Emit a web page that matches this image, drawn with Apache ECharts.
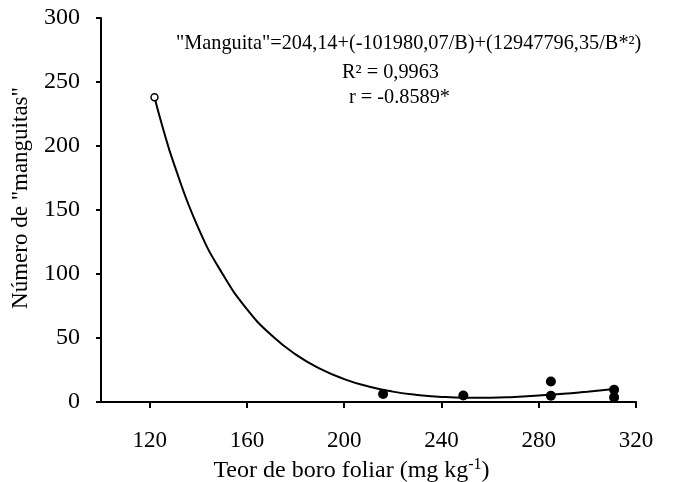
<!DOCTYPE html>
<html>
<head>
<meta charset="utf-8">
<script src="https://cdn.jsdelivr.net/npm/echarts@6/dist/echarts.min.js"></script>
<style>
  html, body { margin: 0; padding: 0; background: #fff; }
  #chart { width: 676px; height: 482px; }
</style>
</head>
<body>
<div id="chart"></div>
<script>
// pontos observados (teor de boro, nº de manguitas)
var pontosCheios = [[216, 6.3], [249, 5.1], [285, 16], [285, 4.9], [311, 9.6], [311, 3.6]];
var pontoAberto = [[122, 238]];

// curva ajustada, valores
var curvaX = [122, 125, 130, 140, 150, 160, 170, 180, 190, 200, 210, 220, 230, 240, 250, 260, 270, 280, 290, 300, 311];
var curvaY = [238, 217, 186, 136, 100, 72.5, 52.3, 37.2, 26.1, 17.9, 12.1, 8.1, 5.5, 4.0, 3.4, 3.4, 4.0, 5.1, 6.4, 8.1, 10.1];

var xTicks = [120, 160, 200, 240, 280, 320];

var equacao = '"Manguita"=204,14+(-101980,07/B)+(12947796,35/B*²)';
var r2Texto = 'R² = 0,9963';
var rTexto = 'r = -0.8589*';

var fonte = 'Liberation Serif';

var curva = curvaX.map(function (x, i) { return [x, curvaY[i]]; });

var chart = echarts.init(document.getElementById('chart'));
var option = {
  animation: false,
  textStyle: { fontFamily: fonte, color: '#000' },
  grid: { left: 101, right: 40, top: 18, bottom: 80, outerBoundsMode: 'none', containLabel: false },
  xAxis: {
    type: 'value',
    min: 100,
    max: 320,
    name: 'Teor de boro foliar (mg kg{sup|-1})',
    nameLocation: 'middle',
    nameGap: 51,
    nameTextStyle: {
      fontFamily: fonte, fontSize: 24, color: '#000',
      padding: [0, 34, 0, 0],
      rich: { sup: { fontFamily: fonte, fontSize: 16, verticalAlign: 'top', padding: [0, 0, 12, 0] } }
    },
    splitLine: { show: false },
    axisLine: { lineStyle: { color: '#000', width: 2 } },
    axisTick: { customValues: xTicks, length: 6, lineStyle: { color: '#000', width: 2 } },
    axisLabel: { customValues: xTicks, margin: 27, fontSize: 23, color: '#000', fontFamily: fonte }
  },
  yAxis: {
    type: 'value',
    min: 0,
    max: 300,
    interval: 50,
    name: 'Número de "manguitas"',
    nameLocation: 'middle',
    nameGap: 69,
    nameTextStyle: { fontFamily: fonte, fontSize: 23, color: '#000', padding: [0, 0, 0, 24] },
    splitLine: { show: false },
    axisLine: { show: true, lineStyle: { color: '#000', width: 2 } },
    axisTick: { show: true, length: 5, lineStyle: { color: '#000', width: 2 } },
    axisLabel: { margin: 21, fontSize: 24, color: '#000', fontFamily: fonte }
  },
  graphic: [
    { type: 'text', left: 176, top: 34, style: { text: equacao, font: '20.3px "Liberation Serif"', fill: '#000' } },
    { type: 'text', left: 342, top: 63, style: { text: r2Texto, font: '20.3px "Liberation Serif"', fill: '#000' } },
    { type: 'text', left: 349, top: 88, style: { text: rTexto, font: '20.3px "Liberation Serif"', fill: '#000' } }
  ],
  series: [
    {
      type: 'line',
      data: curva,
      smooth: true,
      showSymbol: false,
      lineStyle: { color: '#000', width: 2 },
      z: 2
    },
    {
      type: 'scatter',
      data: pontosCheios,
      symbol: 'circle',
      symbolSize: 10,
      itemStyle: { color: '#000', opacity: 1 },
      z: 3
    },
    {
      type: 'scatter',
      data: pontoAberto,
      symbol: 'circle',
      symbolSize: 7,
      itemStyle: { color: '#fff', borderColor: '#000', borderWidth: 1.5, opacity: 1 },
      z: 3
    }
  ]
};
chart.setOption(option);
</script>
</body>
</html>
